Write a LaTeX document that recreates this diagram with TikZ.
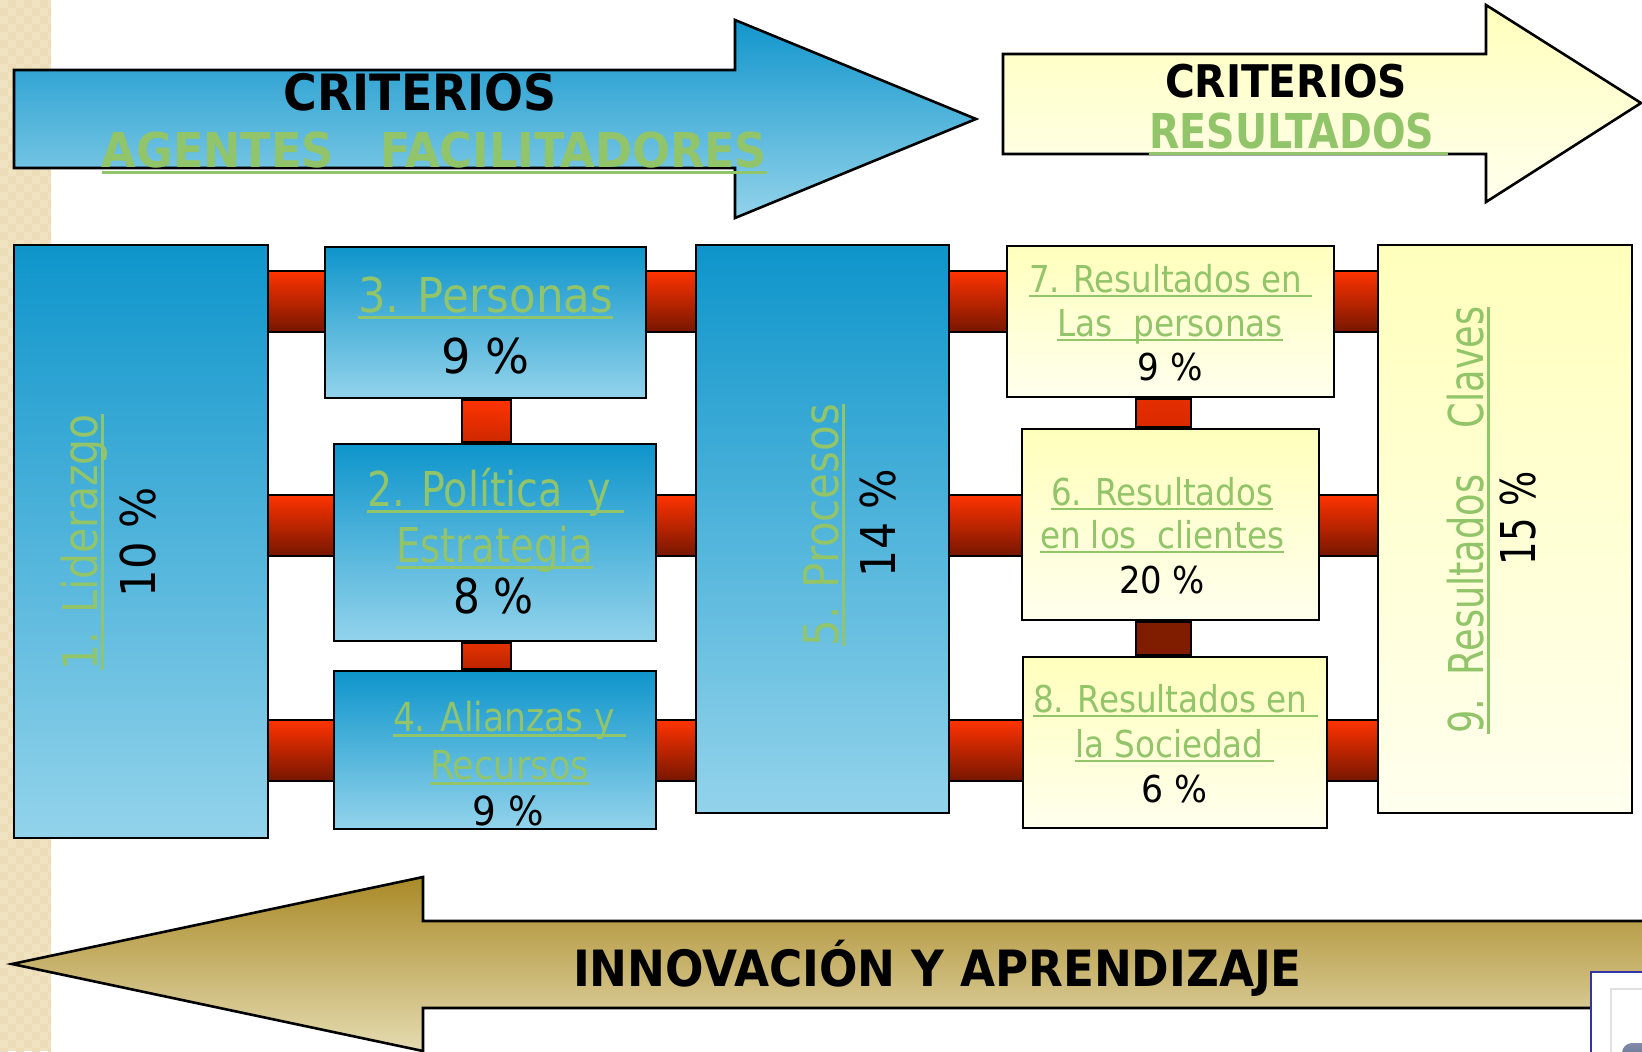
\documentclass[tikz,border=0pt]{standalone}
\usepackage{fontspec}
\setmainfont{DejaVu Sans Condensed}[BoldFont={DejaVu Sans Condensed Bold}]
\usetikzlibrary{fit}
\pgfdeclarelayer{bg}
\pgfsetlayers{bg,main}
\definecolor{grn}{RGB}{146,196,106}
\definecolor{bluetop}{RGB}{14,149,203}
\definecolor{bluebot}{RGB}{147,211,235}
\definecolor{arrtop}{RGB}{18,150,204}
\definecolor{arrbot}{RGB}{147,211,234}
\definecolor{yeltop}{RGB}{255,255,188}
\definecolor{yelbot}{RGB}{255,255,238}
\definecolor{goldtop}{RGB}{170,138,40}
\definecolor{goldbot}{RGB}{228,219,176}
\definecolor{redtop}{RGB}{255,51,0}
\definecolor{redbot}{RGB}{118,22,0}
\definecolor{strip}{RGB}{240,227,193}
\definecolor{stripdk}{RGB}{236,221,184}
\definecolor{ovblue}{RGB}{52,52,170}
\definecolor{blobtop}{RGB}{130,140,170}
\definecolor{blobbot}{RGB}{80,92,125}
\newlength\pxu
\setlength\pxu{0.5pt}
\newcommand\myul[1]{\setbox0=\hbox{#1}\rlap{\rule[-0.14em]{\wd0}{0.065em}}\box0}
\newcommand\myfit[2]{\resizebox{#1\pxu}{\height}{#2}}
\tikzset{
  bx/.style={draw=black, line width=1.4pt, inner sep=0pt},
  bluebox/.style={bx, top color=bluetop, bottom color=bluebot},
  yelbox/.style={bx, top color=yeltop, bottom color=yelbot},
  hbar/.style={draw=black, line width=1.3pt, top color=redtop, bottom color=redbot},
  vbar/.style={draw=black, line width=1.3pt},
  outl/.style={draw=black, line width=1.3pt, line join=miter},
  txt/.style={inner sep=0pt, anchor=base},
  lg/.style={txt, font=\fontsize{24}{28}\selectfont},
  lm/.style={txt, font=\fontsize{20}{24}\selectfont},
  ls/.style={txt, font=\fontsize{18.5}{22}\selectfont},
  gr/.style={text=grn},
  hdA/.style={txt, font=\bfseries\fontsize{25}{30}\selectfont},
  hdB/.style={txt, font=\bfseries\fontsize{24}{28}\selectfont},
  hdC/.style={txt, font=\bfseries\fontsize{22.5}{26}\selectfont},
}
\begin{document}
\begin{tikzpicture}[x=0.5pt,y=-0.5pt]
\useasboundingbox (0,0) rectangle (1642,1051);
\clip (0,0) rectangle (1642,1051);
% textured left strip
\begin{scope}
\clip (0,0) rectangle (51,1051);
\fill[strip] (0,0) rectangle (51,1051);
\foreach \j in {0,...,131} {
  \foreach \i in {0,...,6} {
    \pgfmathtruncatemacro{\odd}{mod(\i+\j,2)}
    \ifnum\odd=1 \fill[stripdk] (8*\i,8*\j) rectangle ++(8,8); \fi
  }
}
\end{scope}
% top arrows
\path[outl, top color=arrtop, bottom color=arrbot]
  (14,70) -- (735,70) -- (735,20) -- (976,119) -- (735,218) -- (735,168) -- (14,168) -- cycle;
\path[outl, top color=yeltop, bottom color=yelbot]
  (1003,54) -- (1486,54) -- (1486,5) -- (1641,103) -- (1486,202) -- (1486,154) -- (1003,154) -- cycle;
% bottom arrow
\path[outl, top color=goldtop, bottom color=goldbot]
  (1700,921) -- (423,921) -- (423,877) -- (12,964) -- (423,1051) -- (423,1008) -- (1700,1008) -- cycle;
% arrow texts
\node[hdA] (critA) at (420.5,110) {\myfit{273}{CRITERIOS}};
\node[hdB, gr] (agent) at (434.5,167) {\myfit{665}{\myul{AGENTES\ \ \ FACILITADORES}}};
\node[hdC] (critR) at (1286,97) {\myfit{242}{CRITERIOS}};
\node[hdB, gr] (resul) at (1298.5,148) {\myfit{299}{\myul{RESULTADOS\ }}};
\node[hdA] (innov) at (937.5,986) {\myfit{729}{INNOVACIÓN Y APRENDIZAJE}};
% boxes
\node[bluebox, fit={(14,245) (268,838)}] (b1) {};
\node[bluebox, fit={(325,247) (646,398)}] (b3) {};
\node[bluebox, fit={(334,444) (656,641)}] (b2) {};
\node[bluebox, fit={(334,671) (656,829)}] (b4) {};
\node[bluebox, fit={(696,245) (949,813)}] (b5) {};
\node[yelbox, fit={(1007,246) (1334,397)}] (b7) {};
\node[yelbox, fit={(1022,429) (1319,620)}] (b6) {};
\node[yelbox, fit={(1023,657) (1327,828)}] (b8) {};
\node[yelbox, fit={(1378,245) (1632,813)}] (b9) {};
% connector guides
\coordinate (r1t) at (0,271); \coordinate (r1b) at (0,332);
\coordinate (r2t) at (0,495); \coordinate (r2b) at (0,556);
\coordinate (r3t) at (0,720); \coordinate (r3b) at (0,781);
\coordinate (vl) at (462,0); \coordinate (vr) at (511,0);
\coordinate (wl) at (1136,0); \coordinate (wr) at (1191,0);
\begin{pgfonlayer}{bg}
\path[hbar] (b1 |- r1t) rectangle (b3 |- r1b);
\path[hbar] (b1 |- r2t) rectangle (b2 |- r2b);
\path[hbar] (b1 |- r3t) rectangle (b4 |- r3b);
\path[hbar] (b3 |- r1t) rectangle (b5 |- r1b);
\path[hbar] (b2 |- r2t) rectangle (b5 |- r2b);
\path[hbar] (b4 |- r3t) rectangle (b5 |- r3b);
\path[hbar] (b5 |- r1t) rectangle (b7 |- r1b);
\path[hbar] (b5 |- r2t) rectangle (b6 |- r2b);
\path[hbar] (b5 |- r3t) rectangle (b8 |- r3b);
\path[hbar] (b7 |- r1t) rectangle (b9 |- r1b);
\path[hbar] (b6 |- r2t) rectangle (b9 |- r2b);
\path[hbar] (b8 |- r3t) rectangle (b9 |- r3b);
\path[vbar, top color={rgb,255:red,255;green,51;blue,0}, bottom color={rgb,255:red,205;green,40;blue,0}] (vl |- b3.south) rectangle (vr |- b2.north);
\path[vbar, top color={rgb,255:red,230;green,50;blue,0}, bottom color={rgb,255:red,185;green,36;blue,0}] (vl |- b2.south) rectangle (vr |- b4.north);
\path[vbar, top color={rgb,255:red,228;green,46;blue,0}, bottom color={rgb,255:red,218;green,42;blue,0}] (wl |- b7.south) rectangle (wr |- b6.north);
\path[vbar, fill={rgb,255:red,128;green,28;blue,0}] (wl |- b6.south) rectangle (wr |- b8.north);
\end{pgfonlayer}
% box texts
\node[lg, gr, rotate=90] (t1a) at (97,542) {\myfit{256}{\myul{1. Liderazgo}}};
\node[lg, rotate=90] (t1b) at (155,542) {\myfit{110}{10 \%}};
\node[lg, gr] (t3a) at (485.5,312) {\myfit{255}{\myul{3. Personas}}};
\node[lg] (t3b) at (485,373) {\myfit{88}{9 \%}};
\node[lg, gr] (t2a) at (495.5,506) {\myfit{257}{\myul{2. Política\ \ y\ }}};
\node[lg, gr] (t2b) at (494.5,562) {\myfit{197}{\myul{Estrategia}}};
\node[lg] (t2c) at (493,613) {\myfit{80}{8 \%}};
\node[lm, gr] (t4a) at (509.5,731) {\myfit{233}{\myul{4. Alianzas y\ }}};
\node[lm, gr] (t4b) at (509.5,779) {\myfit{159}{\myul{Recursos}}};
\node[lm] (t4c) at (508,825) {\myfit{71}{9 \%}};
\node[lg, gr, rotate=90] (t5a) at (838,525) {\myfit{242}{\myul{5. Procesos}}};
\node[lg, rotate=90] (t5b) at (895,523) {\myfit{108}{14 \%}};
\node[ls, gr] (t7a) at (1170.5,292) {\myfit{283}{\myul{7. Resultados en\ }}};
\node[ls, gr] (t7b) at (1170,336) {\myfit{226}{\myul{Las\ \ personas}}};
\node[ls] (t7c) at (1170,380) {\myfit{65}{9 \%}};
\node[ls, gr] (t6a) at (1162,505) {\myfit{222}{\myul{6. Resultados}}};
\node[ls, gr] (t6b) at (1162,548) {\myfit{244}{\myul{en los\ \ clientes}}};
\node[ls] (t6c) at (1162,593) {\myfit{86}{20 \%}};
\node[ls, gr] (t8a) at (1175.5,712) {\myfit{285}{\myul{8. Resultados en\ }}};
\node[ls, gr] (t8b) at (1174.5,757) {\myfit{199}{\myul{la Sociedad\ }}};
\node[ls] (t8c) at (1174,802) {\myfit{66}{6 \%}};
\node[lg, gr, rotate=90] (t9a) at (1483,520) {\myfit{427}{\myul{9.\ \ Resultados\ \ \ \ Claves}}};
\node[lg, rotate=90] (t9b) at (1535,518) {\myfit{94}{15 \%}};
% overlay window at bottom right
\path[draw=ovblue, line width=1.3pt, fill=white] (1591,972) rectangle (1670,1070);
\draw[black!12, line width=0.8pt] (1611,989) rectangle (1670,1070);
\path[top color=blobtop, bottom color=blobbot, rounded corners=5pt] (1622,1043) rectangle (1680,1075);
\end{tikzpicture}
\end{document}
